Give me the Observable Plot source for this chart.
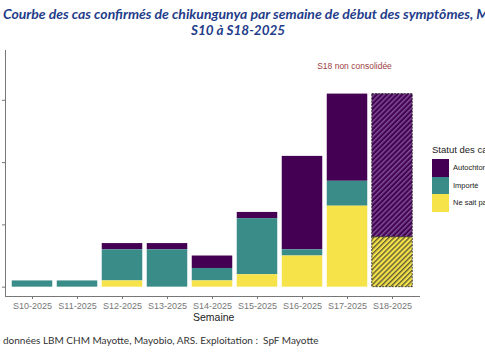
<!DOCTYPE html>
<html>
<head>
<meta charset="utf-8">
<script src="https://cdn.jsdelivr.net/npm/d3@7"></script>
<script src="https://cdn.jsdelivr.net/npm/@observablehq/plot@0.6"></script>
<style>
  html, body { margin: 0; padding: 0; background: #fff; }
  body { width: 485px; height: 360px; overflow: hidden; position: relative; font-family: "Liberation Sans", Arial, sans-serif; }
  .title { position: absolute; white-space: nowrap; font-family: Lato, "Open Sans", sans-serif; font-weight: bold; font-style: italic; color: #1f3d8a; font-size: 14px; }
  #chart { position: absolute; left: 0; top: 40px; }
  .xlab { position: absolute; left: 193px; top: 311px; font-size: 10.5px; color: #222; }
  .caption { position: absolute; left: 3px; top: 334px; white-space: nowrap; font-family: Lato, sans-serif; font-size: 10px; color: #333; }
  .legend { position: absolute; left: 432px; top: 144px; white-space: nowrap; }
  .legend .lt { font-size: 9.5px; color: #222; margin-bottom: 4px; }
  .legend .row { display: flex; align-items: center; height: 17.5px; }
  .legend .sw { width: 17px; height: 17.5px; }
  .legend .lab { font-size: 7.5px; color: #222; margin-left: 4px; }
</style>
</head>
<body>
<div class="title" style="left:3px; top:5px;">Courbe des cas confirmés de chikungunya par semaine de début des symptômes, Mayotte,</div>
<div class="title" style="left:191px; top:22px; font-size:13.5px;">S10 à S18-2025</div>
<div id="chart"></div>
<div class="xlab">Semaine</div>
<div class="legend" id="legend"></div>
<div class="caption">données LBM CHM Mayotte, Mayobio, ARS. Exploitation :&nbsp; SpF Mayotte</div>
<script>
// ---- data ----
const weeks = ["S10-2025","S11-2025","S12-2025","S13-2025","S14-2025","S15-2025","S16-2025","S17-2025","S18-2025"];
const autochtone = [0, 0, 1, 1, 2, 1, 15, 14, 23];
const importe    = [1, 1, 5, 6, 2, 9, 1, 4, 0];
const neSaitPas  = [0, 0, 1, 0, 1, 2, 5, 13, 8];
const statuts = ["Autochtone", "Importé", "Ne sait pas"];
const statutColors = ["#440154", "#3a8c88", "#f6e34a"];
const yTicks = [0, 10, 20, 30];
const hatchedWeek = "S18-2025";
const noteText = "S18 non consolidée";

const series = [autochtone, importe, neSaitPas];
const rows = [];
weeks.forEach((w, i) => statuts.forEach((s, j) => rows.push({week: w, statut: s, n: series[j][i]})));
const solid = rows.filter(d => d.week !== hatchedWeek);
const hatched = rows.filter(d => d.week === hatchedWeek);
const stackOrder = ["Ne sait pas", "Importé", "Autochtone"];

const plot = Plot.plot({
  width: 485,
  height: 290,
  marginLeft: 5,
  marginRight: 66,
  marginTop: 10,
  marginBottom: 34,
  style: {fontFamily: "Liberation Sans, Arial, sans-serif", fontSize: "9px", color: "#777", background: "transparent"},
  x: {domain: weeks, paddingInner: 0.1, paddingOuter: 0.15, round: false, label: null, tickSize: 3, tickPadding: 3, line: true},
  y: {domain: [-1.5, 38], ticks: yTicks, tickFormat: () => "", tickSize: 3, label: null, line: true},
  color: {domain: statuts, range: statutColors},
  marks: [
    Plot.barY(solid, Plot.stackY({x: "week", y: "n", fill: "statut", order: stackOrder})),
    Plot.barY(hatched, Plot.stackY({x: "week", y: "n", fill: "statut", order: stackOrder, stroke: "#222", strokeWidth: 0.8, strokeDasharray: "2,1.2"})),
    Plot.text([noteText], {x: () => weeks[7], y: () => 35.5, text: d => d, dx: 7, fill: "#9c3f46", fontSize: 8.5})
  ]
});

// hatch patterns
const svgEl = plot.tagName.toLowerCase() === "svg" ? plot : plot.querySelector("svg");
const svg = d3.select(svgEl);
const defs = svg.insert("defs", ":first-child");
function addPattern(id, base, stripe, sw) {
  const p = defs.append("pattern").attr("id", id).attr("patternUnits", "userSpaceOnUse")
    .attr("width", 3.6).attr("height", 3.6).attr("patternTransform", "rotate(45)");
  p.append("rect").attr("width", 3.6).attr("height", 3.6).attr("fill", base);
  p.append("rect").attr("width", sw).attr("height", 3.6).attr("fill", stripe);
}
addPattern("hatch0", statutColors[0], "rgba(175,150,200,0.55)", 1.4);
addPattern("hatch1", statutColors[1], "rgba(30,30,30,0.7)", 1.3);
addPattern("hatch2", statutColors[2], "rgba(60,60,45,0.8)", 1.4);
const xs = plot.scale("x");
const hx = xs.apply(hatchedWeek);
const hexes = statutColors.map(c => d3.color(c).formatHex());
svg.selectAll("rect").each(function() {
  if (this.closest("pattern")) return;
  const x = +this.getAttribute("x");
  if (!(Math.abs(x - hx) < 1.5)) return;
  const f = this.getAttribute("fill");
  if (!f) return;
  const c = d3.color(f);
  if (!c) return;
  const k = hexes.indexOf(c.formatHex());
  if (k >= 0) this.setAttribute("fill", `url(#hatch${k})`);
});
document.getElementById("chart").appendChild(plot);

// legend
const lg = document.getElementById("legend");
lg.innerHTML = `<div class="lt">Statut des cas</div>` +
  statuts.map((s, i) => `<div class="row"><div class="sw" style="background:${statutColors[i]}"></div><div class="lab">${s}</div></div>`).join("");
</script>
</body>
</html>
